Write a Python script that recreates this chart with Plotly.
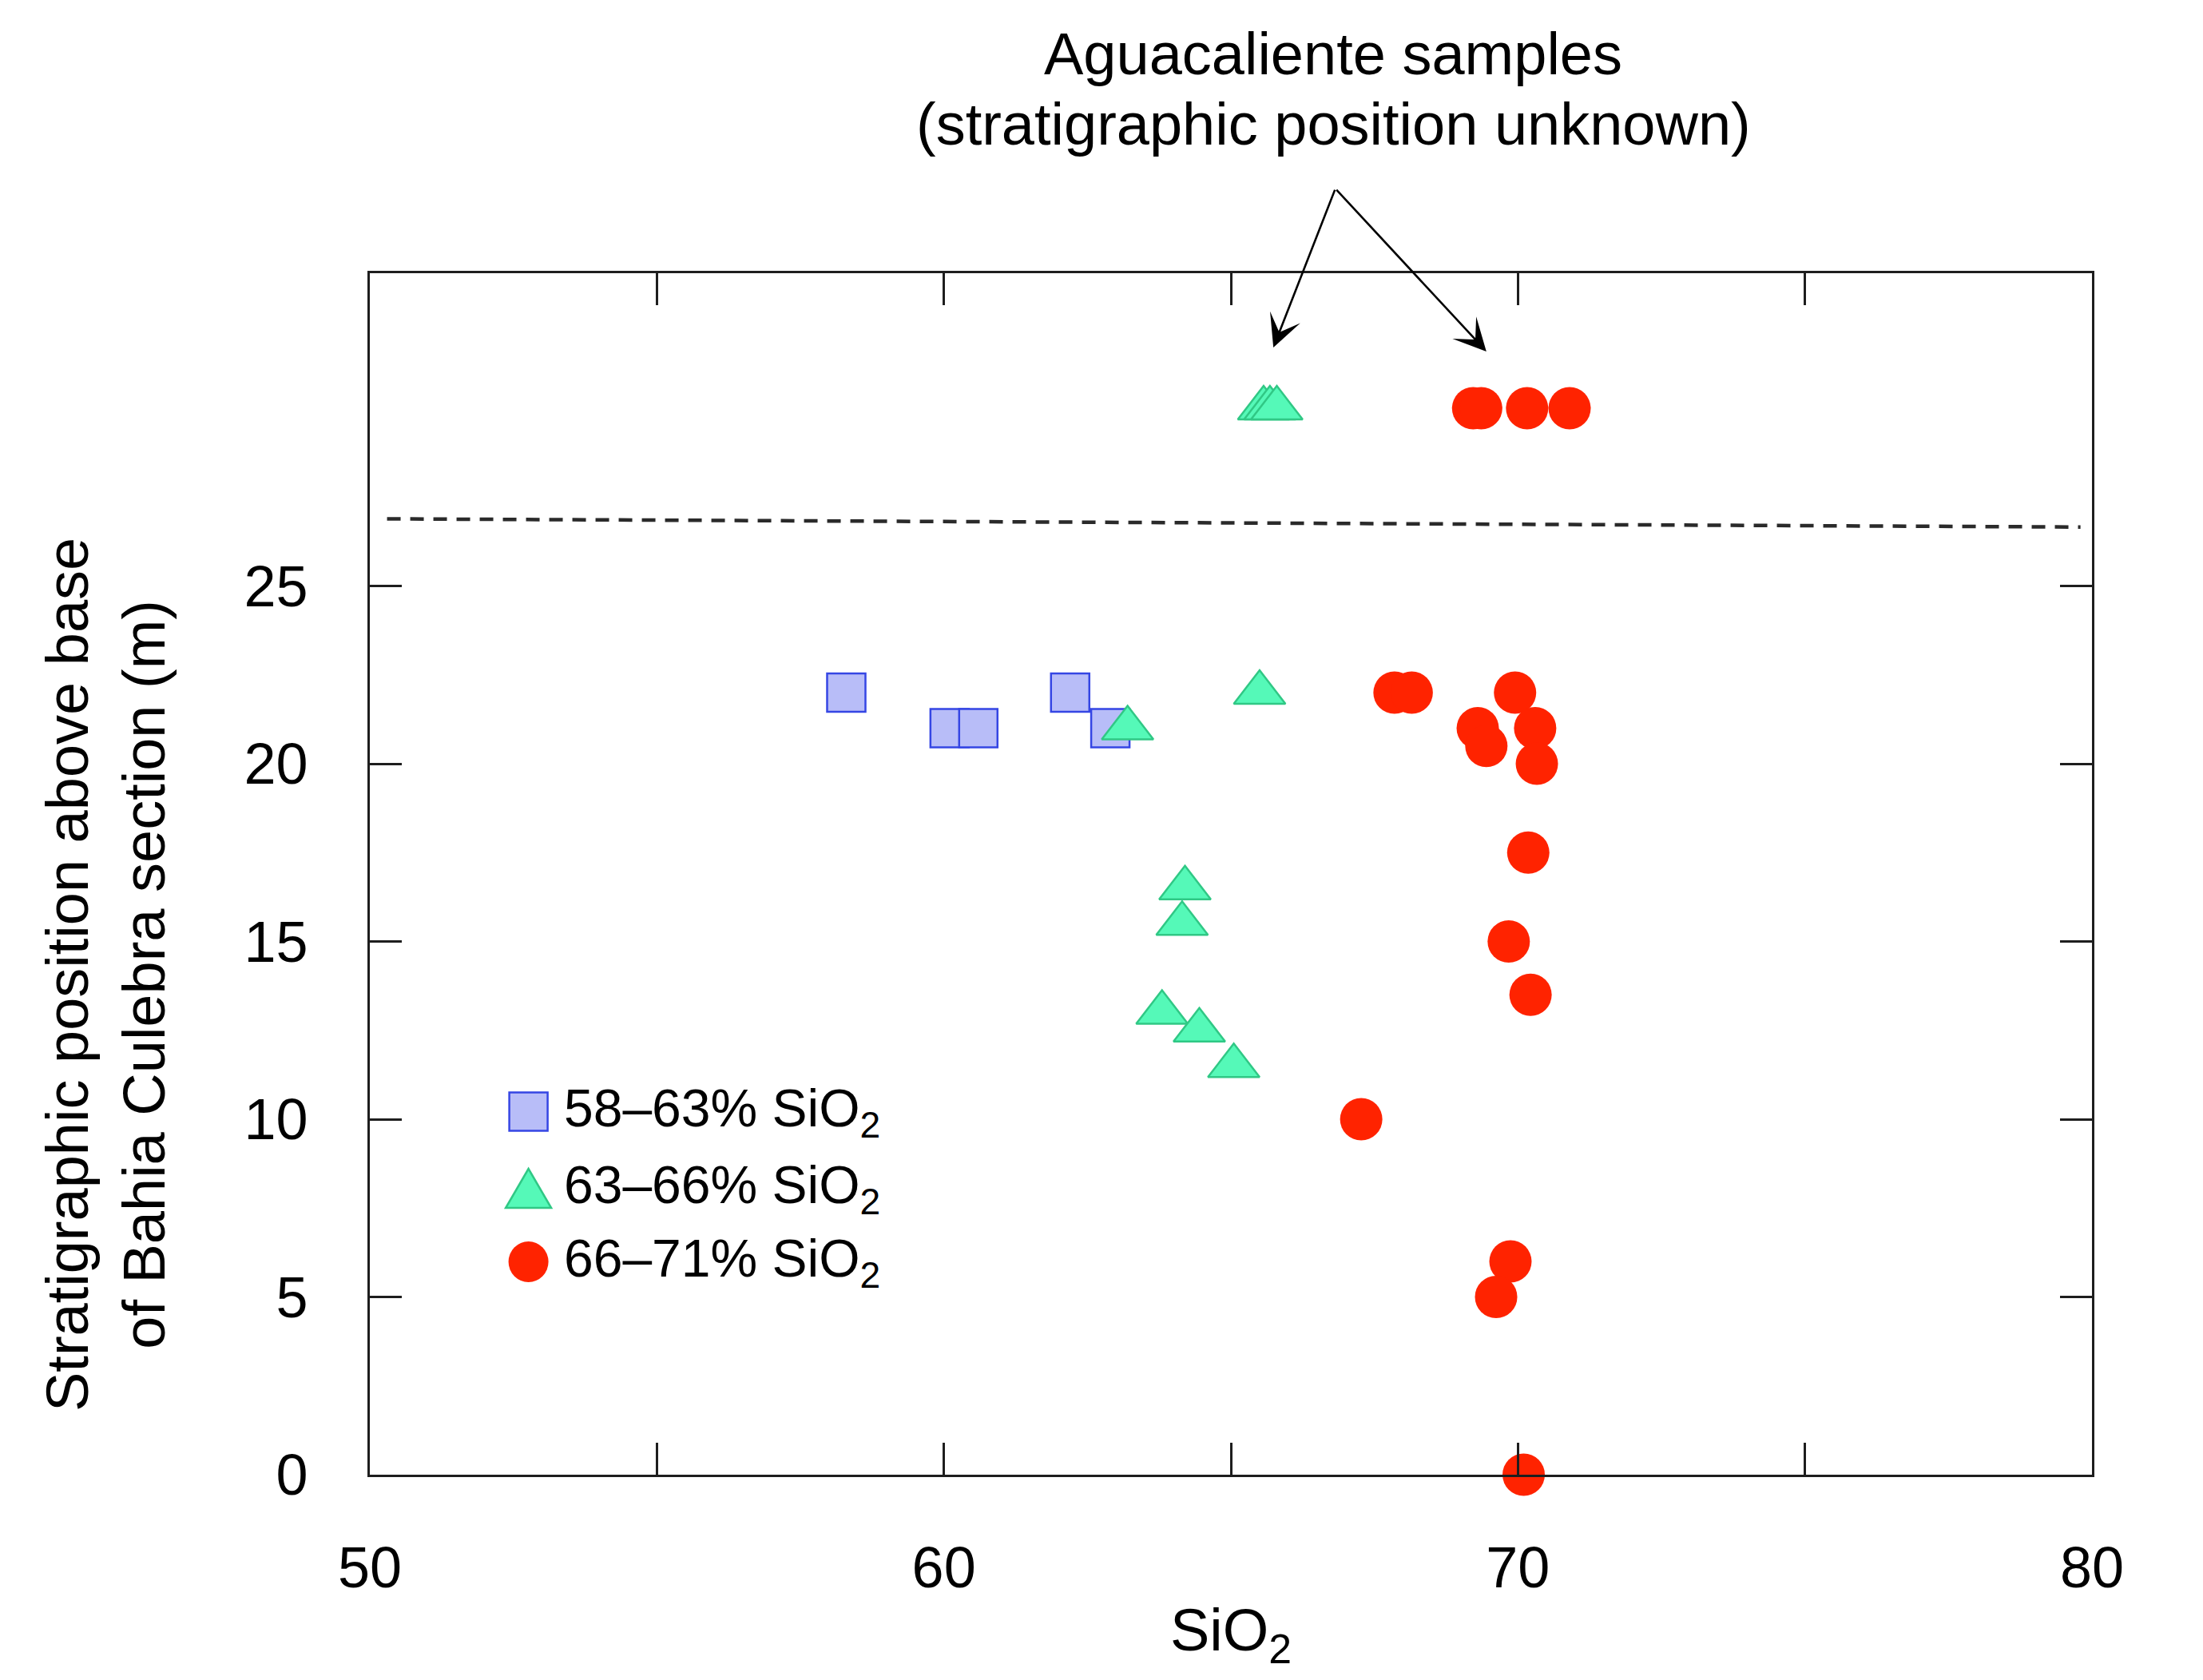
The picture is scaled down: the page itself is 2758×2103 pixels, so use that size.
import plotly.graph_objects as go

# ---------------- data ----------------
sq_x = [58.3, 60.1, 60.6, 62.2, 62.9]
sq_y = [22, 21, 21, 22, 21]

tri_x = [63.2, 65.5, 64.2, 64.15, 63.8, 64.45, 65.05, 65.57, 65.68, 65.8]
tri_y = [21, 22, 16.5, 15.5, 13, 12.5, 11.5, 30, 30, 30]

circ_x = [67.85, 68.15, 69.95, 69.3, 69.45, 70.3, 70.33, 70.18, 69.84, 70.22,
          67.27, 69.87, 69.62, 70.1, 69.22, 69.36, 70.16, 70.9]
circ_y = [22, 22, 22, 21, 20.5, 21, 20, 17.5, 15, 13.5,
          10, 6, 5, 0, 30, 30, 30, 30]

series_names = ["58–63% SiO<sub>2</sub>", "63–66% SiO<sub>2</sub>", "66–71% SiO<sub>2</sub>"]

boundary_x = [50.3, 79.8]
boundary_y = [26.89, 26.66]

arrow_tail = (66.82, 36.18)
arrow_heads_x = [65.74, 69.45]
arrow_heads_y = [31.71, 31.6]

x_tickvals = [50, 60, 70, 80]
x_ticktext = ["50", "60", "70", "80"]
x_minor_tickvals = [55, 65, 75]
y_tickvals = [0, 5, 10, 15, 20, 25]

annot_lines = ["Aguacaliente samples", "(stratigraphic position unknown)"]
y_title = "Stratigraphic position above base<br>of Bahia Culebra section (m)"
x_title = "SiO<sub>2</sub>"

# ---------------- style ----------------
FONT = "Liberation Sans, Arial, Helvetica, sans-serif"
SQ_FILL, SQ_LINE = "#B8BDF8", "#3546E4"
TRI_FILL, TRI_LINE = "#55F9B8", "#30C885"
CIRC_FILL = "#FF2300"
AXC = "#1e1e1e"
W, H = 2758, 2103
ML, MR, MT, MB = 455, 147, 334, 265
PW, PH = W - ML - MR, H - MT - MB


def px2paper_x(px):
    return (px - ML) / PW


def px2paper_y(py):
    return (H - MB - py) / PH


fig = go.Figure()

fig.add_trace(go.Scatter(
    x=boundary_x, y=boundary_y, mode="lines", showlegend=False, hoverinfo="skip",
    line=dict(color="#2a2a2a", width=4.5, dash="17px,12px")))

fig.add_trace(go.Scatter(
    x=sq_x, y=sq_y, mode="markers", name=series_names[0], showlegend=False,
    cliponaxis=False,
    marker=dict(symbol="square", size=48, color=SQ_FILL, line=dict(color=SQ_LINE, width=2.5))))

fig.add_trace(go.Scatter(
    x=tri_x, y=tri_y, mode="markers", name=series_names[1], showlegend=False,
    cliponaxis=False,
    marker=dict(symbol="triangle-up", size=56, color=TRI_FILL, line=dict(color=TRI_LINE, width=2.5))))

fig.add_trace(go.Scatter(
    x=circ_x, y=circ_y, mode="markers", name=series_names[2], showlegend=False,
    cliponaxis=False,
    marker=dict(symbol="circle", size=53, color=CIRC_FILL, line=dict(color=CIRC_FILL, width=0))))

annotations = []
shapes = []

# arrows
for hx, hy in zip(arrow_heads_x, arrow_heads_y):
    annotations.append(dict(
        x=hx, y=hy, xref="x", yref="y", ax=arrow_tail[0], ay=arrow_tail[1],
        axref="x", ayref="y", text="", showarrow=True, arrowhead=3,
        arrowsize=2.6, arrowwidth=2.6, arrowcolor="black", standoff=0, startstandoff=0))

# annotation text
annotations.append(dict(x=px2paper_x(1661), y=px2paper_y(60), xref="paper", yref="paper",
                        text=annot_lines[0], showarrow=False, xanchor="center", yanchor="middle",
                        font=dict(family=FONT, size=74, color="black")))
annotations.append(dict(x=px2paper_x(1661), y=px2paper_y(147), xref="paper", yref="paper",
                        text=annot_lines[1], showarrow=False, xanchor="center", yanchor="middle",
                        font=dict(family=FONT, size=74, color="black")))

# axis titles
annotations.append(dict(x=px2paper_x(124), y=px2paper_y(1212), xref="paper", yref="paper",
                        text=y_title, showarrow=False, textangle=-90,
                        xanchor="center", yanchor="middle",
                        font=dict(family=FONT, size=74, color="black")))
annotations.append(dict(x=px2paper_x(1533), y=px2paper_y(2038), xref="paper", yref="paper",
                        text=x_title, showarrow=False, xanchor="center", yanchor="middle",
                        font=dict(family=FONT, size=74, color="black")))

# manual legend
leg_x = px2paper_x(653.6)
leg_text_x = px2paper_x(696)
leg_y = [px2paper_y(1383.5), px2paper_y(1479.5), px2paper_y(1571.5)]

shapes.append(dict(type="rect", xref="paper", yref="paper", xsizemode="pixel", ysizemode="pixel",
                   xanchor=leg_x, yanchor=leg_y[0], x0=-24, x1=24, y0=-24, y1=24,
                   fillcolor=SQ_FILL, line=dict(color=SQ_LINE, width=2.5), layer="above"))
shapes.append(dict(type="path", xref="paper", yref="paper", xsizemode="pixel", ysizemode="pixel",
                   xanchor=leg_x, yanchor=leg_y[1], path="M-28.5,-24.5 L28.5,-24.5 L0,24.5 Z",
                   fillcolor=TRI_FILL, line=dict(color=TRI_LINE, width=2.5), layer="above"))
shapes.append(dict(type="circle", xref="paper", yref="paper", xsizemode="pixel", ysizemode="pixel",
                   xanchor=leg_x, yanchor=leg_y[2], x0=-25, x1=25, y0=-25.5, y1=25.5,
                   fillcolor=CIRC_FILL, line=dict(color=CIRC_FILL, width=0), layer="above"))
for name, yy in zip(series_names, leg_y):
    annotations.append(dict(x=leg_text_x, y=yy, xref="paper", yref="paper", text=name,
                            showarrow=False, xanchor="left", yanchor="middle",
                            font=dict(family=FONT, size=66, color="black")))

axis_common = dict(showline=True, mirror="ticks", linecolor=AXC, linewidth=3,
                   ticks="inside", ticklen=40, tickwidth=2.5, tickcolor=AXC,
                   showgrid=False, zeroline=False,
                   tickfont=dict(family=FONT, size=72, color="black"))

fig.update_layout(
    width=W, height=H,
    margin=dict(l=ML, r=MR, t=MT, b=MB, pad=0),
    paper_bgcolor="white", plot_bgcolor="white",
    font=dict(family=FONT, color="black"),
    showlegend=False,
    xaxis=dict(range=[50, 80], tickvals=x_tickvals, ticktext=x_ticktext,
               ticklabelstandoff=52,
               minor=dict(tickvals=x_minor_tickvals, ticks="inside", ticklen=40,
                          tickwidth=2.5, tickcolor=AXC, showgrid=False),
               **axis_common),
    yaxis=dict(range=[0, 33.8], tickvals=y_tickvals, ticklabelstandoff=60, **axis_common),
    annotations=annotations,
    shapes=shapes,
)

fig.write_html("out.html")
